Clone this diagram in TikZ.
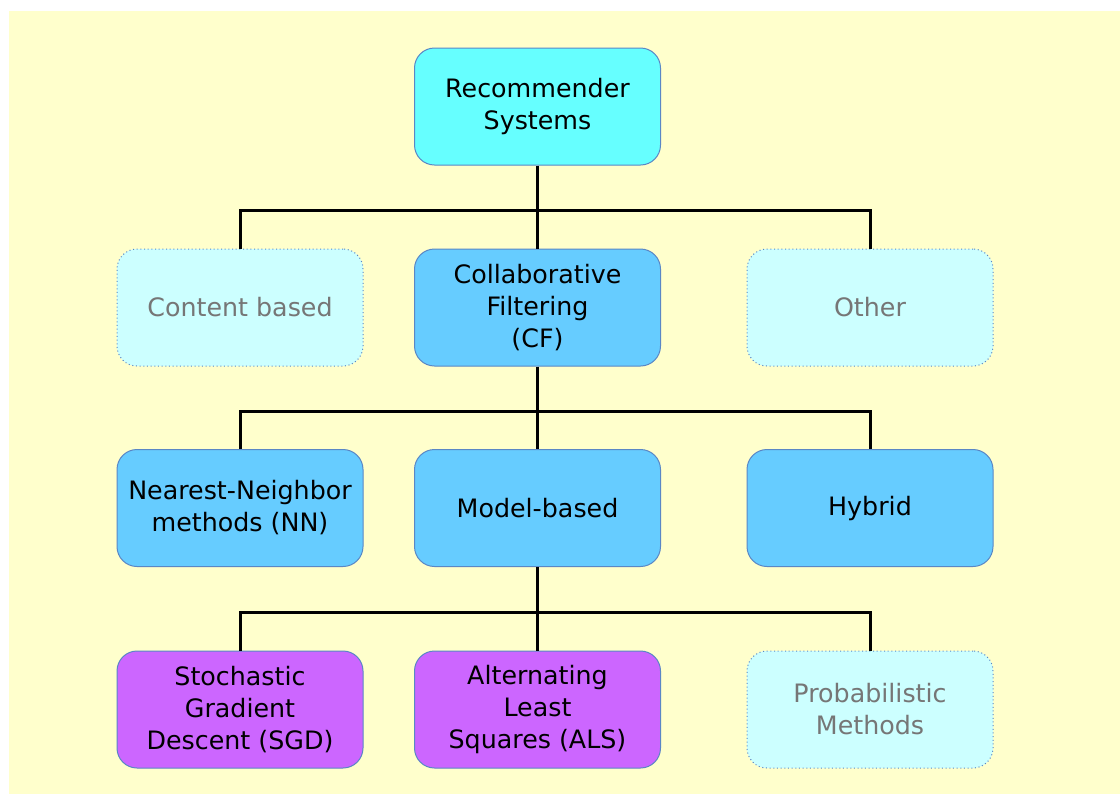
\documentclass[tikz,border=0pt]{standalone}
\usepackage{fontspec}
\setmainfont{DejaVu Sans}
\definecolor{bgyellow}{HTML}{FFFFCC}
\definecolor{cyanbox}{HTML}{66FFFF}
\definecolor{bluebox}{HTML}{66CCFF}
\definecolor{purplebox}{HTML}{CC66FF}
\definecolor{palebox}{HTML}{CCFFFF}
\definecolor{boxline}{HTML}{5A87C5}
\definecolor{greytext}{HTML}{767676}
\begin{document}
\begin{tikzpicture}[x=0.75pt,y=-0.75pt,
  box/.style={draw=boxline,line width=0.75pt,rounded corners=15pt,
    minimum width=184.5pt,minimum height=87.75pt,align=center,
    font=\fontsize{19}{24}\selectfont,inner sep=0pt},
  mainbox/.style={box,fill=cyanbox},
  cfbox/.style={box,fill=bluebox},
  algbox/.style={box,fill=purplebox},
  otherbox/.style={box,fill=palebox,dotted,text=greytext},
  wire/.style={line width=2.25pt,black}]
\useasboundingbox (0,0) rectangle (1120,794);
\fill[white] (0,0) rectangle (1120,794);
\fill[bgyellow] (9,11) rectangle (1120,794);

\node[mainbox] (rs) at (537.5,106.5) {Recommender\\Systems};

\node[otherbox] (cb) at (240,307.5) {Content based};
\node[cfbox] (cf) at (537.5,307.5) {Collaborative\\Filtering\\(CF)};
\node[otherbox] (oth) at (870,307.5) {Other};

\node[cfbox] (nn) at (240,508) {Nearest-Neighbor\\methods (NN)};
\node[cfbox] (mb) at (537.5,508) {Model-based};
\node[cfbox] (hy) at (870,508) {Hybrid};

\node[algbox] (sgd) at (240,709.5) {Stochastic\\Gradient\\Descent (SGD)};
\node[algbox] (als) at (537.5,709.5) {Alternating\\Least\\Squares (ALS)};
\node[otherbox] (pm) at (870,709.5) {Probabilistic\\Methods};

\coordinate (b1) at (537.5,210);
\coordinate (b2) at (537.5,411);
\coordinate (b3) at (537.5,612);

\draw[wire] (rs.south) -- (cf.north);
\draw[wire] (cb.north) |- (b1) -| (oth.north);
\draw[wire] (cf.south) -- (mb.north);
\draw[wire] (nn.north) |- (b2) -| (hy.north);
\draw[wire] (mb.south) -- (als.north);
\draw[wire] (sgd.north) |- (b3) -| (pm.north);
\end{tikzpicture}
\end{document}
